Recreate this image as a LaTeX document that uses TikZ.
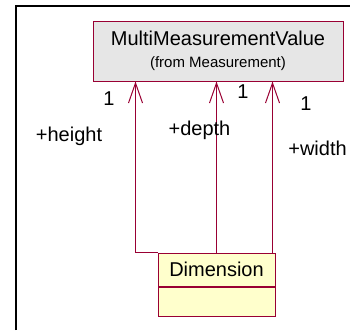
\documentclass[tikz,border=0pt]{standalone}
\usepackage{fontspec}
\setmainfont{Liberation Sans}
\usetikzlibrary{arrows.meta,positioning}
\definecolor{umlline}{HTML}{990033}
\definecolor{classgray}{HTML}{E6E6E6}
\definecolor{classyellow}{HTML}{FFFFCC}
\tikzset{cls/.style={draw=umlline,line width=1pt,inner sep=0pt,font=\fontsize{20}{24}\selectfont},
 assoc/.style={draw=umlline,line width=1pt,-{Straight Barb[length=20pt,width=14pt]}},
 role/.style={font=\fontsize{20}{24}\selectfont,inner sep=0pt}}

\begin{document}
\begin{tikzpicture}[x=1pt,y=-1pt]
\useasboundingbox (0,0) rectangle (350,330);
\draw[line width=2pt] (16,330)--(16,6)--(350,6);
\node[cls,fill=classgray,minimum width=250pt,minimum height=60pt,align=center] (mmv) at (218,51)
 {MultiMeasurementValue\\[-2pt]{\fontsize{15}{18}\selectfont (from Measurement)}};
\node[cls,fill=classyellow,minimum width=117pt,minimum height=33pt] (dim) at (216.5,269.5) {Dimension};
\node[cls,fill=classyellow,minimum width=117pt,minimum height=29pt,below=0pt of dim] (dimattr) {};
\coordinate (wtail) at ([xshift=-3pt]dim.north east);
\draw[assoc] (dim.north west) -| ([xshift=43pt]mmv.south west);
\draw[assoc] (dim.north) -- (dim.north |- mmv.south);
\draw[assoc] (wtail) -- (wtail |- mmv.south);
\node[role] (hmult) at (109,98.5) {1};
\node[role] (hrole) at (69,136.5) {+height};
\node[role] (drole) at (199.5,130.5) {+depth};
\node[role] (dmult) at (243,91.5) {1};
\node[role] (wmult) at (306,104) {1};
\node[role] (wrole) at (317.5,148.5) {+width};
\end{tikzpicture}
\end{document}
